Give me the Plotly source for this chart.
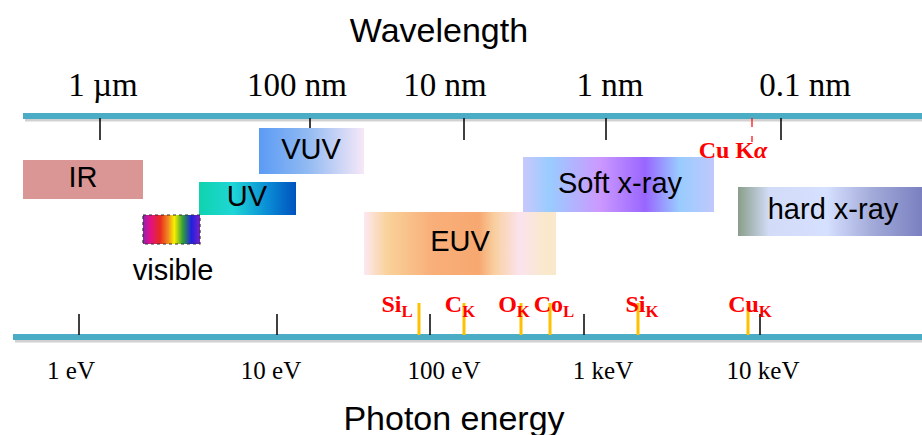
import plotly.graph_objects as go

# Data (diagram x units)
wl_labels = ["1 \u00b5m", "100 nm", "10 nm", "1 nm", "0.1 nm"]
wl_ticks = [100, 310, 464, 606, 781]
wl_label_x = [103, 297, 445, 610, 805]

en_labels = ["1 eV", "10 eV", "100 eV", "1 keV", "10 keV"]
en_ticks = [79, 277, 430, 584, 760]
en_label_x = [71, 271, 444, 603, 763]

bands = ["IR", "VUV", "UV", "visible", "EUV", "Soft x-ray", "hard x-ray"]
band_start = [23, 259, 199, 143, 364, 523, 738]
band_end = [143, 364, 296, 200, 556, 714, 922]

edges = ["Si<sub>L</sub>", "C<sub>K</sub>", "O<sub>K</sub>", "Co<sub>L</sub>", "Si<sub>K</sub>", "Cu<sub>K</sub>"]
edge_x = [419, 464, 521, 550, 638, 748]

cu_ka_x = 752

# Styling / layout
band_rows = {  # top, bottom
    "IR": (160, 199), "VUV": (128, 174), "UV": (182, 215), "visible": (215, 244),
    "EUV": (212, 275), "Soft x-ray": (157, 212), "hard x-ray": (187, 236),
}
band_colors = {
    "IR": [[0, "#D99694"], [1, "#D99694"]],
    "VUV": [[0, "#5B9BF5"], [0.45, "#8FB9F2"], [1, "#F6E8F8"]],
    "UV": [[0, "#0FD3AE"], [0.35, "#1FD6D6"], [0.7, "#0A8ED6"], [1, "#0052BE"]],
    "visible": [[0, "#9020B0"], [0.12, "#E0108A"], [0.3, "#E82A20"], [0.45, "#F39020"],
                [0.55, "#F8F000"], [0.7, "#2E9E3A"], [0.85, "#2020E0"], [1, "#7A20C8"]],
    "EUV": [[0, "#FDE8F2"], [0.12, "#F9D29A"], [0.35, "#F9AF7A"], [0.6, "#F7A870"],
            [0.68, "#F9CFA0"], [0.81, "#FBE3EE"], [0.94, "#FAE8CC"], [1, "#FAE8CC"]],
    "Soft x-ray": [[0, "#C8C8FC"], [0.14, "#99CCFF"], [0.4, "#CC99FF"], [0.64, "#9966FF"],
                   [0.82, "#99CCFF"], [1, "#C0C8FC"]],
    "hard x-ray": [[0, "#8A9E8A"], [0.17, "#D2DCF8"], [0.48, "#D6E0FF"], [0.72, "#A4ACDA"],
                   [1, "#7A80C0"]],
}
band_text_pos = {
    "IR": (83, 180), "VUV": (311, 152), "UV": (247, 199), "visible": (173, 273),
    "EUV": (460, 244), "Soft x-ray": (620, 186), "hard x-ray": (833, 212),
}
edge_dx = [-22, -4, -7, 4, 4, 2]

TOP_Y, BOT_Y = 116, 337
AXIS_COLOR = "#4BACC6"
SANS = "Liberation Sans, Arial, sans-serif"
SERIF = "Liberation Serif, Times New Roman, serif"

fig = go.Figure()

# axis bars with a soft shadow
for y, x0 in [(TOP_Y, 23), (BOT_Y, 13)]:
    fig.add_trace(go.Scatter(x=[x0 + 2, 922], y=[y + 3, y + 3], mode="lines",
                             line=dict(color="rgba(0,0,0,0.18)", width=5), hoverinfo="skip"))
    fig.add_trace(go.Scatter(x=[x0, 922], y=[y, y], mode="lines",
                             line=dict(color=AXIS_COLOR, width=6), hoverinfo="skip"))

# tick marks
for xt in wl_ticks:
    fig.add_trace(go.Scatter(x=[xt, xt], y=[TOP_Y + 2, 140], mode="lines",
                             line=dict(color="black", width=1.5), hoverinfo="skip"))
for xt in en_ticks:
    fig.add_trace(go.Scatter(x=[xt, xt], y=[314, BOT_Y - 2], mode="lines",
                             line=dict(color="black", width=1.5), hoverinfo="skip"))

# spectral bands
for name, x0, x1 in zip(bands, band_start, band_end):
    y0, y1 = band_rows[name]
    border = dict(color="#333333", width=1.2, dash="dot") if name == "visible" else dict(width=0)
    fig.add_trace(go.Scatter(
        x=[x0, x1, x1, x0, x0], y=[y0, y0, y1, y1, y0], mode="lines",
        fill="toself", line=border,
        fillgradient=dict(type="horizontal", colorscale=band_colors[name]),
        hoverinfo="skip"))

# band labels
fig.add_trace(go.Scatter(
    x=[band_text_pos[b][0] for b in bands], y=[band_text_pos[b][1] for b in bands],
    text=bands, mode="text", textposition="middle center",
    textfont=dict(family=SANS, size=29, color="black"), hoverinfo="skip"))

# absorption edges
for label, xe, dx in zip(edges, edge_x, edge_dx):
    fig.add_trace(go.Scatter(x=[xe, xe], y=[303, BOT_Y - 2], mode="lines",
                             line=dict(color="#FFC000", width=3), hoverinfo="skip"))
    fig.add_trace(go.Scatter(x=[xe + dx], y=[306], text=["<b>" + label + "</b>"], mode="text",
                             textposition="middle center",
                             textfont=dict(family=SERIF, size=24, color="#FF0000"),
                             hoverinfo="skip"))

# Cu K-alpha marker
fig.add_trace(go.Scatter(x=[cu_ka_x, cu_ka_x], y=[TOP_Y + 2, 142], mode="lines",
                         line=dict(color="#FF0000", width=1.2, dash="dash"), hoverinfo="skip"))
fig.add_trace(go.Scatter(x=[733], y=[152], text=["<b>Cu K<i>\u03b1</i></b>"], mode="text",
                         textposition="middle center",
                         textfont=dict(family=SERIF, size=24, color="#FF0000"), hoverinfo="skip"))

# tick labels
fig.add_trace(go.Scatter(x=wl_label_x, y=[88] * len(wl_labels), text=wl_labels, mode="text",
                         textposition="middle center",
                         textfont=dict(family=SERIF, size=33, color="black"), hoverinfo="skip"))
fig.add_trace(go.Scatter(x=en_label_x, y=[373] * len(en_labels), text=en_labels, mode="text",
                         textposition="middle center",
                         textfont=dict(family=SERIF, size=25, color="black"), hoverinfo="skip"))

# axis titles
fig.add_trace(go.Scatter(x=[439, 454], y=[33, 421], text=["Wavelength", "Photon energy"],
                         mode="text", textposition="middle center",
                         textfont=dict(family=SANS, size=34, color="black"), hoverinfo="skip"))

fig.update_layout(
    width=922, height=435,
    margin=dict(l=0, r=0, t=0, b=0),
    showlegend=False,
    plot_bgcolor="white", paper_bgcolor="white",
    xaxis=dict(range=[0, 922], visible=False, fixedrange=True),
    yaxis=dict(range=[435, 0], visible=False, fixedrange=True),
)

# drop the page's default body margin so the figure sits at the window corner
fig.write_html("out.html", config={"displayModeBar": False},
               post_script="document.body.style.margin='0';document.body.style.overflow='hidden';")
